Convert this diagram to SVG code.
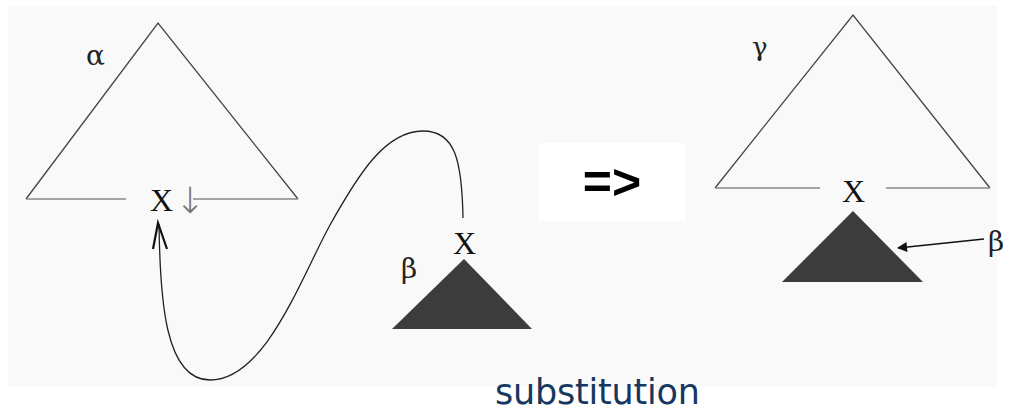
<svg xmlns="http://www.w3.org/2000/svg" width="1013" height="410" viewBox="0 0 1013 410">
<defs>
<style>
.tri{fill:none;stroke:#444;stroke-width:1.3}
.base{fill:none;stroke:#888;stroke-width:1.6}
.dark{fill:#3c3c3c;stroke:none}
.lbl{font-family:"DejaVu Serif","Liberation Serif",serif;fill:#222}
.x{font-family:"Liberation Serif","DejaVu Serif",serif;font-size:32px;fill:#111}
.conn{fill:none;stroke:#222;stroke-width:1.3}
</style>
<marker id="fa" viewBox="0 0 10 10" refX="9" refY="5" markerWidth="12" markerHeight="10" markerUnits="userSpaceOnUse" orient="auto">
<path d="M0,0 L10,5 L0,10 z" fill="#111"/>
</marker>
</defs>
<rect x="0" y="0" width="1013" height="410" fill="#ffffff"/>
<rect x="8" y="6" width="989" height="381" fill="#f9f9f9"/>

<g id="alpha-tree">
<path class="tri" d="M26,199 L158,23 L298,199"/>
<path class="base" d="M26,199 H126 M193,199 H298"/>
<text class="lbl" x="86" y="65" font-size="28">α</text>
<text class="x" x="150" y="211">X</text>
<text x="175" y="213" font-family="DejaVu Sans,sans-serif" font-size="36" fill="#777" font-weight="200">↓</text>
</g>

<g id="beta-tree">
<path class="dark" d="M392,329 L464,259 L532,329 z"/>
<text class="x" x="453" y="254">X</text>
<text class="lbl" x="401" y="278" font-size="28">β</text>
</g>

<g id="implies">
<rect x="539" y="143" width="146" height="78" fill="#ffffff"/>
<text x="612" y="199" text-anchor="middle" font-family="Liberation Sans,Arial,sans-serif" font-size="50" font-weight="bold" fill="#000">=&gt;</text>
</g>

<g id="gamma-tree">
<path class="tri" d="M715,188 L853,15 L990,188"/>
<path class="base" d="M715,188 H820 M886,188 H990"/>
<text class="lbl" x="752" y="56" font-size="26">γ</text>
<text class="x" x="842" y="202">X</text>
<path class="dark" d="M782,282 L853,211 L923,282 z"/>
<text class="lbl" x="988" y="251" font-size="28">β</text>
</g>

<g id="connectors">
<path class="conn" d="M463,218 C462,160 455,131 423,131 C385,131 358,175 330,225 C300,280 265,380 210,380 C165,380 160,300 159,224"/>
<path d="M153,249 L158,223 L167,249" fill="none" stroke="#111" stroke-width="2.2"/>
<line x1="984" y1="239" x2="898" y2="248" stroke="#111" stroke-width="1.4" marker-end="url(#fa)"/>
</g>

<text x="495" y="404" font-family="DejaVu Sans,Verdana,sans-serif" font-size="35" fill="#17375e" textLength="205">substitution</text>
</svg>
